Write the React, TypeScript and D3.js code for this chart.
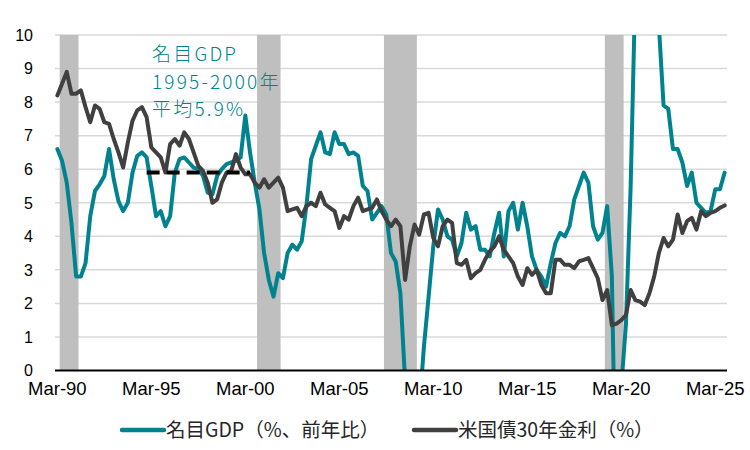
import React, { useEffect, useRef } from "react";
import * as d3 from "d3";

// quarterly categories, Mar-90 .. Sep-25
const months = ["Mar", "Jun", "Sep", "Dec"];
const quarters: string[] = [];
for (let yr = 1990; yr <= 2025; yr++) {
  for (const m of months) {
    if (yr === 2025 && m === "Dec") break;
    quarters.push(`${m}-${String(yr % 100).padStart(2, "0")}`);
  }
}

const xTickLabels = ["Mar-90", "Mar-95", "Mar-00", "Mar-05", "Mar-10", "Mar-15", "Mar-20", "Mar-25"];
const yTicks = [0, 1, 2, 3, 4, 5, 6, 7, 8, 9, 10];

// nominal GDP, % y/y
const nominalGdp = [
  6.6, 6.25, 5.6, 4.4, 2.8, 2.8, 3.2, 4.6, 5.35, 5.55, 5.8, 6.6, 5.7, 5.05, 4.75, 5.0,
  5.9, 6.4, 6.5, 6.35, 5.5, 4.6, 4.75, 4.3, 4.6, 5.9, 6.3, 6.35, 6.2, 6.05, 6.0, 5.8,
  5.3, 5.25, 5.8, 6.0, 6.15, 6.2, 6.25, 6.35, 7.6, 6.5, 5.6, 4.8, 3.5, 2.7, 2.2, 2.9,
  2.75, 3.5, 3.75, 3.6, 3.85, 4.9, 6.3, 6.7, 7.1, 6.5, 6.45, 7.1, 6.75, 6.75, 6.45, 6.5,
  6.4, 5.5, 5.35, 4.5, 4.7, 4.9, 4.65, 3.5, 3.25, 2.3, -0.3, -1.5, -2.5, -1.2, 0.7, 2.2,
  3.7, 4.8, 4.5, 4.0, 3.9, 3.4, 3.8, 4.7, 4.2, 4.3, 3.6, 3.6, 3.4, 4.1, 4.7, 3.4,
  4.75, 5.0, 4.2, 5.0, 4.3, 3.4, 3.0, 2.8, 2.5, 3.2, 3.8, 4.1, 4.0, 4.3, 5.1, 5.5,
  5.9, 5.6, 4.3, 3.9, 4.1, 4.9, 2.8, -5.0, -0.5, 1.4, 5.5, 11.5, 16.0, 14.0, 12.5, 11.5,
  10.3, 7.9, 7.8, 6.6, 6.6, 6.2, 5.5, 5.9, 5.0, 4.85, 4.7, 4.75, 5.4, 5.4, 5.9,
];

// US Treasury 30Y yield, %
const ust30y = [
  8.2, 8.55, 8.9, 8.25, 8.25, 8.35, 7.85, 7.4, 7.9, 7.8, 7.4, 7.35, 6.9, 6.5, 6.05, 6.8,
  7.45, 7.75, 7.85, 7.55, 6.65, 6.5, 6.35, 5.9, 6.75, 6.9, 6.7, 7.1, 6.9, 6.5, 6.1, 5.95,
  5.6, 5.0, 5.1, 5.6, 5.9, 5.95, 6.45, 6.05, 5.85, 5.85, 5.6, 5.45, 5.7, 5.45, 5.6, 5.75,
  5.45, 4.75, 4.8, 4.85, 4.6, 4.9, 5.0, 4.9, 5.3, 4.95, 4.85, 4.75, 4.25, 4.6, 4.5, 4.9,
  5.15, 4.75, 4.8, 4.85, 5.1, 4.75, 4.5, 4.3, 4.5, 4.3, 2.7, 3.7, 4.35, 4.05, 4.65, 4.7,
  3.95, 3.7, 4.3, 4.5, 4.4, 3.2, 3.15, 3.3, 2.75, 2.9, 3.0, 3.3, 3.55, 3.7, 4.0, 3.6,
  3.4, 3.2, 2.8, 2.55, 3.05, 2.85, 3.0, 2.55, 2.3, 2.3, 3.3, 3.3, 3.15, 3.15, 3.05, 3.25,
  3.3, 3.35, 3.05, 2.75, 2.1, 2.4, 1.35, 1.4, 1.5, 1.65, 2.4, 2.1, 2.05, 1.95, 2.3, 2.8,
  3.5, 3.95, 3.7, 3.9, 4.65, 4.1, 4.45, 4.55, 4.2, 4.75, 4.6, 4.7, 4.75, 4.85, 4.92,
];

// shaded recession spans (first, last quarter)
const recessions: [string, string][] = [
  ["Jun-90", "Mar-91"],
  ["Dec-00", "Dec-01"],
  ["Sep-07", "Mar-09"],
  ["Jun-19", "Mar-20"],
];

// 1995-2000 average of nominal GDP
const avgSpan: [string, string] = ["Dec-94", "Jun-00"];
const avgValue = 5.9;
const noteLines = ["名目GDP", "1995-2000年", "平均5.9%"];

const legendItems = [
  { label: "名目GDP（%、前年比）", color: "#00838F" },
  { label: "米国債30年金利（%）", color: "#404040" },
];

const GDP_COLOR = "#00838F";
const UST_COLOR = "#404040";
const LATIN = "'Liberation Sans', Arial, sans-serif";
const CJK = "'Noto Sans CJK JP', 'Noto Sans', sans-serif";

const Chart = () => {
  const container = useRef<HTMLDivElement>(null);

  useEffect(() => {
    const width = 750;
    const height = 450;
    const left = 55;
    const right = 727;
    const top = 35;
    const bottom = 370.5;

    const x = d3.scaleBand<string>().domain(quarters).range([left, right]).padding(0);
    const bw = x.bandwidth();
    const xc = (q: string) => (x(q) ?? 0) + bw / 2;
    const y = d3.scaleLinear().domain([0, 10]).range([bottom, top]);

    const svg = d3
      .select(container.current)
      .append("svg")
      .attr("width", width)
      .attr("height", height)
      .attr("viewBox", [0, 0, width, height].join(" "))
      .style("display", "block")
      .style("background", "#fff");

    svg
      .append("defs")
      .append("clipPath")
      .attr("id", "plot-clip")
      .append("rect")
      .attr("x", 0)
      .attr("y", top)
      .attr("width", width)
      .attr("height", bottom - top);

    // horizontal gridlines
    svg
      .append("g")
      .selectAll("line")
      .data(yTicks.filter((t) => t > 0))
      .join("line")
      .attr("x1", left)
      .attr("x2", right)
      .attr("y1", (d) => y(d))
      .attr("y2", (d) => y(d))
      .attr("stroke", "#D9D9D9")
      .attr("stroke-width", 1.5);

    // recession shading
    svg
      .append("g")
      .selectAll("rect")
      .data(recessions)
      .join("rect")
      .attr("x", (d) => x(d[0]) ?? 0)
      .attr("width", (d) => (x(d[1]) ?? 0) + bw - (x(d[0]) ?? 0))
      .attr("y", top)
      .attr("height", bottom - top)
      .attr("fill", "#BFBFBF");

    const line = d3
      .line<number>()
      .x((_, i) => xc(quarters[i]))
      .y((d) => y(d));

    const lines = svg.append("g").attr("clip-path", "url(#plot-clip)");
    [
      { values: nominalGdp, color: GDP_COLOR },
      { values: ust30y, color: UST_COLOR },
    ].forEach((s) => {
      lines
        .append("path")
        .attr("d", line(s.values))
        .attr("fill", "none")
        .attr("stroke", s.color)
        .attr("stroke-width", 4)
        .attr("stroke-linejoin", "round")
        .attr("stroke-linecap", "round");
    });

    // average line
    svg
      .append("line")
      .attr("x1", xc(avgSpan[0]))
      .attr("x2", xc(avgSpan[1]))
      .attr("y1", y(avgValue))
      .attr("y2", y(avgValue))
      .attr("stroke", "#000")
      .attr("stroke-width", 4)
      .attr("stroke-dasharray", "13 7");

    // x axis line
    svg
      .append("line")
      .attr("x1", left)
      .attr("x2", right)
      .attr("y1", bottom)
      .attr("y2", bottom)
      .attr("stroke", "#000")
      .attr("stroke-width", 2);

    // y tick labels
    svg
      .append("g")
      .selectAll("text")
      .data(yTicks)
      .join("text")
      .attr("x", 33)
      .attr("y", (d) => y(d))
      .attr("dy", "0.36em")
      .attr("text-anchor", "end")
      .attr("font-family", LATIN)
      .attr("font-size", 16)
      .attr("fill", "#000")
      .text((d) => d);

    // x tick labels
    svg
      .append("g")
      .selectAll("text")
      .data(xTickLabels)
      .join("text")
      .attr("x", (d) => xc(d))
      .attr("y", 395)
      .attr("text-anchor", "middle")
      .attr("font-family", LATIN)
      .attr("font-size", 18.5)
      .attr("fill", "#000")
      .text((d) => d);

    // note
    svg
      .append("g")
      .selectAll("text")
      .data(noteLines)
      .join("text")
      .attr("x", 152)
      .attr("y", (_, i) => 61 + i * 27.5)
      .attr("font-family", CJK)
      .attr("font-weight", 300)
      .attr("font-size", 19)
      .attr("letter-spacing", 2.2)
      .attr("fill", GDP_COLOR)
      .text((d) => d);

    // legend
    const legendX = [120, 412];
    const lg = svg
      .append("g")
      .selectAll("g")
      .data(legendItems)
      .join("g")
      .attr("transform", (_, i) => `translate(${legendX[i]},430)`);
    lg.append("line")
      .attr("x1", 2)
      .attr("x2", 44)
      .attr("stroke", (d) => d.color)
      .attr("stroke-width", 4.5)
      .attr("stroke-linecap", "round");
    lg.append("text")
      .attr("x", 46)
      .attr("dy", "0.36em")
      .attr("font-family", CJK)
      .attr("font-size", 19.5)
      .attr("fill", "#262626")
      .text((d) => d.label);

    return () => {
      svg.remove();
    };
  }, []);

  return <div ref={container} style={{ position: "absolute", left: 0, top: 0 }}></div>;
};

export default function App() {
  return <Chart />;
}
